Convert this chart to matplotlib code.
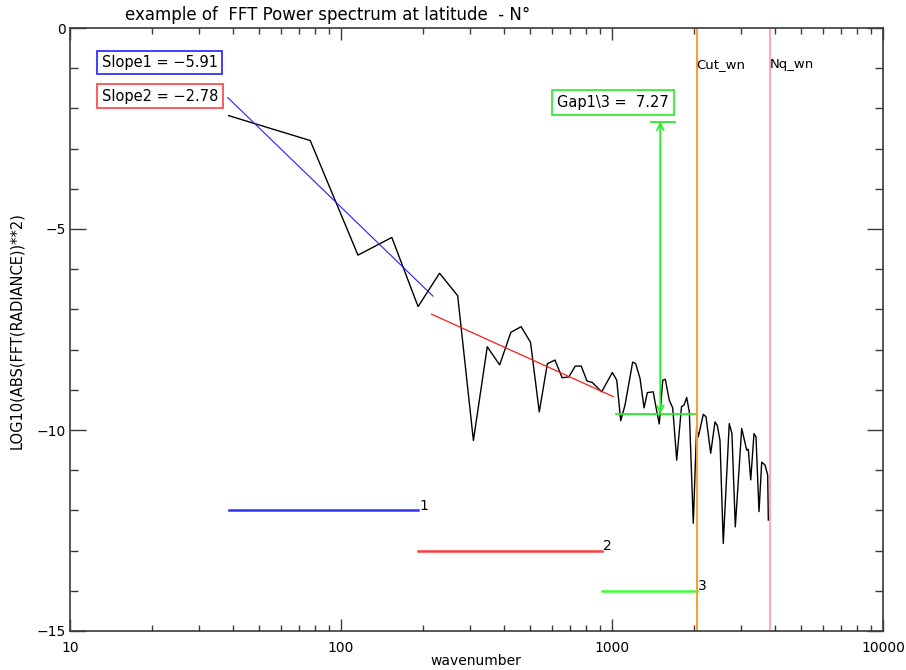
# FFT power spectrum plot, IDL-look, with the two slope fits and the gap marker

import matplotlib
matplotlib.use("Agg")
import matplotlib.pyplot as plt
import matplotlib.ticker as mticker

# spectrum (wavenumber, log10 power)
wavenumber = [38.5, 77, 115.5, 154, 192.5, 231, 269.5, 308, 346.5, 385,
              423.5, 462, 500.5, 539, 577.5, 616, 654.5, 693, 731.5, 770,
              808.5, 847, 916, 1003, 1041, 1077, 1117, 1192, 1223, 1269,
              1313, 1350, 1420, 1441, 1494, 1539, 1573, 1627, 1675, 1733,
              1805, 1844, 1886, 1929, 1995, 2053, 2081, 2111, 2172, 2223,
              2313, 2399, 2447, 2503, 2574, 2708, 2771, 2851, 3010, 3141,
              3184, 3250, 3342, 3399, 3487, 3568, 3670, 3754, 3774]
log_power = [-2.18, -2.80, -5.65, -5.21, -6.93, -6.10, -6.66, -10.26, -7.93, -8.38,
             -7.57, -7.43, -7.82, -9.55, -8.35, -8.26, -8.70, -8.68, -8.41, -8.41,
             -8.78, -8.82, -9.05, -8.57, -8.76, -9.77, -9.38, -8.31, -8.35, -8.72,
             -9.45, -9.07, -9.05, -9.30, -9.85, -8.76, -8.74, -9.26, -9.45, -10.75,
             -9.42, -9.38, -9.19, -9.55, -12.32, -9.92, -10.17, -9.99, -9.61, -9.67,
             -10.58, -9.80, -9.89, -10.26, -12.82, -9.84, -10.09, -12.41, -9.96, -10.50,
             -10.48, -11.24, -10.09, -10.17, -12.03, -10.80, -10.87, -11.12, -12.24]

# fitted slopes (end points)
fit1_x = [38.2, 218.5]
fit1_y = [-1.73, -6.67]
fit2_x = [216, 1011]
fit2_y = [-7.12, -9.17]
slope1 = -5.91
slope2 = -2.78

# gap marker
gap = 7.27
gap_wn = 1507
gap_low = -9.60
gap_bar_x = [1035, 2024]
gap_top_bar_x = [1389, 1708]

cut_wn = 2053
nq_wn = 3828

# range legend lines at the bottom
range_x = [[38.5, 193], [193, 916], [916, 2053]]
range_y = [-12, -13, -14]
range_labels = ["1", "2", "3"]
range_colors = ["#3030ff", "#ff3c3c", "#3cff3c"]


def main():
    fig = plt.figure(figsize=(9.06, 6.7), dpi=100)
    ax = fig.add_axes([70 / 906, 1 - 631 / 670, 813 / 906, 603 / 670])

    ax.plot(wavenumber, log_power, color="black", lw=1.0)

    ax.plot(fit1_x, fit1_y, color="#2020ff", lw=0.8)
    ax.plot(fit2_x, fit2_y, color="#ff1a1a", lw=0.9)

    # gap arrow
    gap_top = gap_low + gap
    ax.plot(gap_bar_x, [gap_low, gap_low], color="#22ee22", lw=1.3)
    ax.plot(gap_top_bar_x, [gap_top, gap_top], color="#22ee22", lw=1.3)
    ax.annotate("", xy=(gap_wn, gap_top), xytext=(gap_wn, gap_low),
                arrowprops=dict(arrowstyle="<->", color="#22ee22", lw=1.2,
                                shrinkA=0, shrinkB=0, mutation_scale=12))

    for xs, y, lab, c in zip(range_x, range_y, range_labels, range_colors):
        ax.plot(xs, [y, y], color=c, lw=1.8)
        ax.text(xs[1] * 1.01, y + 0.02, lab, fontsize=10, va="baseline", ha="left")

    ax.axvline(cut_wn, color="#ff9a2e", lw=1.4)
    ax.axvline(nq_wn, color="#ffa6b4", lw=1.4)
    ax.text(cut_wn, -0.9, "Cut_wn", fontsize=9.5, va="center", ha="left")
    ax.text(nq_wn, -0.9, "Nq_wn", fontsize=9.5, va="center", ha="left")

    # boxed labels
    ax.text(13.1, -0.86, "Slope1 = \u2212%.2f" % abs(slope1), fontsize=10.5, va="center",
            bbox=dict(boxstyle="square,pad=0.3", fc="white", ec="#2020ff", lw=1.2))
    ax.text(13.1, -1.70, "Slope2 = \u2212%.2f" % abs(slope2), fontsize=10.5, va="center",
            bbox=dict(boxstyle="square,pad=0.3", fc="white", ec="#ff4040", lw=1.2))
    ax.text(625, -1.86, "Gap1\\3 =  %.2f" % gap, fontsize=10.5, va="center",
            bbox=dict(boxstyle="square,pad=0.35", fc="white", ec="#22ee22", lw=1.2))

    ax.set_xscale("log")
    ax.set_xlim(10, 10000)
    ax.set_ylim(-15, 0)
    ax.set_yticks([0, -5, -10, -15])
    ax.yaxis.set_minor_locator(mticker.MultipleLocator(1))
    ax.xaxis.set_major_formatter(mticker.FuncFormatter(lambda v, p: "%g" % v))
    ax.xaxis.set_minor_formatter(mticker.NullFormatter())

    for s in ax.spines.values():
        s.set_color("#3a3a3a")
        s.set_linewidth(1.2)
    ax.tick_params(which="both", direction="in", top=True, right=True,
                   color="#3a3a3a", width=1.0, labelsize=10)
    ax.tick_params(axis="x", which="major", length=8.6, pad=7)
    ax.tick_params(axis="x", which="minor", length=4.3)
    ax.tick_params(axis="y", which="major", length=11.5, pad=3)
    ax.tick_params(axis="y", which="minor", length=5.8)

    fig.text(125 / 906, 1 - 15 / 670, "example of  FFT Power spectrum at latitude  - N\u00b0",
             fontsize=12, va="center", ha="left")
    fig.text(476 / 906, 1 - 661 / 670, "wavenumber", fontsize=10, ha="center", va="center")
    fig.text(17 / 906, 1 - 331 / 670, "LOG10(ABS(FFT(RADIANCE))**2)", fontsize=10.5,
             rotation=90, ha="center", va="center")

    fig.savefig("out.png", dpi=100)


main()
